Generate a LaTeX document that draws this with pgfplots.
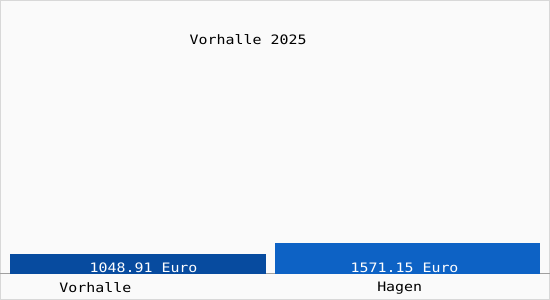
\documentclass[border=0pt]{standalone}
\usepackage{fontspec}
\setmainfont{DejaVu Sans Mono}[FakeStretch=1.15]
\usepackage{pgfplots}
\pgfplotsset{compat=1.18}
\definecolor{bgc}{HTML}{FAFAFA}
\definecolor{bordc}{HTML}{D8D8D8}
\definecolor{barA}{HTML}{074B9F}
\definecolor{barB}{HTML}{0D62C5}
\definecolor{basec}{HTML}{A0A0A0}
\begin{document}
\fontsize{13}{15}\selectfont
\begin{tikzpicture}
\fill[bgc] (0pt,-26pt) rectangle (550pt,274pt);
\draw[bordc, line width=1pt] (0.5pt,-25.5pt) rectangle (549.5pt,273.5pt);
\begin{axis}[
  at={(0pt,0pt)}, anchor=south west,
  scale only axis, width=550pt, height=274pt,
  xmin=-0.512, xmax=1.529,
  ymin=99, ymax=13109,
  axis y line=none,
  axis x line*=bottom,
  axis line style={draw=basec, line width=0.8pt, -},
  xtick={-0.159,0.972},
  xticklabels={Vorhalle,Hagen},
  major tick length=0pt,
  xticklabel style={font=\fontsize{13}{15}\selectfont, yshift=-4pt},
  title={Vorhalle 2025},
  title style={at={(0.451,0.832)}, anchor=center, font=\fontsize{13}{15}\selectfont},
  ybar, bar shift=0pt,
  clip=false,
]
\addplot[fill=barA, draw=none, bar width=0.95] coordinates {(0,1048.91)};
\addplot[fill=barB, draw=none, bar width=0.983] coordinates {(1,1571.15)};
\node[anchor=base, text=white, inner sep=0pt, font=\fontsize{13}{15}\selectfont] at ([yshift=1pt]axis cs:0.02,99) {1048.91 Euro};
\node[anchor=base, text=white, inner sep=0pt, font=\fontsize{13}{15}\selectfont] at ([yshift=1pt]axis cs:0.99,99) {1571.15 Euro};
\end{axis}
\end{tikzpicture}
\end{document}
